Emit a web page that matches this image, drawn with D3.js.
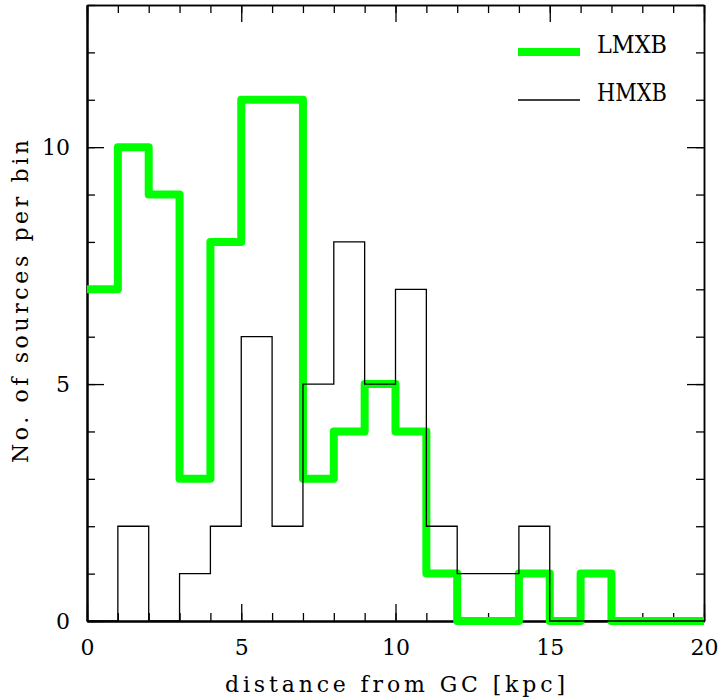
<!DOCTYPE html>
<html lang="en">
<head>
  <meta charset="utf-8" />
  <title>LMXB / HMXB distance from GC</title>
  <style>
    body { margin: 0; background: white; }
    svg text { font-family: "DejaVu Serif", serif; fill: black; }
  </style>
  <script src="https://d3js.org/d3.v7.min.js"></script>
</head>
<body>
<script>

// bin edges (kpc), one bin per 1 kpc
const binEdges = d3.range(0, 21);   // 0..20
// counts per bin
const lmxbCounts = [7, 10, 9, 3, 8, 11, 11, 3, 4, 5, 4, 1, 0, 0, 1, 0, 1, 0, 0, 0];
const hmxbCounts = [0, 2, 0, 1, 2, 6, 2, 5, 8, 5, 7, 2, 1, 1, 2, 0, 0, 0, 0, 0];

const seriesNames = ["LMXB", "HMXB"];
const xMajorTicks = [0, 5, 10, 15, 20];
const yMajorTicks = [0, 5, 10];

// plot box
const W = 719, H = 700;
const box = {left: 87, right: 704, top: 5, bottom: 621};

const svg = d3.select("body").append("svg")
  .attr("width", W)
  .attr("height", H);

const x = d3.scaleLinear().domain([0, 20]).range([box.left, box.right]);
const y = d3.scaleLinear().domain([0, 13]).range([box.bottom, box.top]);

// axes: minor ticks every 1, major every 5 (longer), ticks pointing inward on all sides
function styleAxis(g, w) {
  g.attr("font-family", null);
  g.select(".domain").attr("stroke-width", w);
  g.selectAll(".tick line").attr("stroke-width", 1.3);
  g.selectAll("text").attr("font-size", 22);
}

const minorX = d3.range(0, 21), minorY = d3.range(0, 14);

// bottom
svg.append("g").attr("transform", `translate(0,${box.bottom})`)
  .call(d3.axisBottom(x).tickValues(minorX).tickSize(-8).tickSizeOuter(0).tickFormat(""))
  .call(g => styleAxis(g, 2));
svg.append("g").attr("transform", `translate(0,${box.bottom})`)
  .call(d3.axisBottom(x).tickValues(xMajorTicks).tickSize(-17).tickSizeOuter(0).tickPadding(18).tickFormat(d3.format("d")))
  .call(g => styleAxis(g, 2));
// top
svg.append("g").attr("transform", `translate(0,${box.top})`)
  .call(d3.axisTop(x).tickValues(minorX).tickSize(-8).tickSizeOuter(0).tickFormat(""))
  .call(g => styleAxis(g, 1.5));
svg.append("g").attr("transform", `translate(0,${box.top})`)
  .call(d3.axisTop(x).tickValues(xMajorTicks).tickSize(-17).tickSizeOuter(0).tickFormat(""))
  .call(g => styleAxis(g, 1.5));
// left
svg.append("g").attr("transform", `translate(${box.left},0)`)
  .call(d3.axisLeft(y).tickValues(minorY).tickSize(-8).tickSizeOuter(0).tickFormat(""))
  .call(g => styleAxis(g, 2));
svg.append("g").attr("transform", `translate(${box.left},0)`)
  .call(d3.axisLeft(y).tickValues(yMajorTicks).tickSize(-17).tickSizeOuter(0).tickPadding(17).tickFormat(d3.format("d")))
  .call(g => styleAxis(g, 2));
// right
svg.append("g").attr("transform", `translate(${box.right},0)`)
  .call(d3.axisRight(y).tickValues(minorY).tickSize(-8).tickSizeOuter(0).tickFormat(""))
  .call(g => styleAxis(g, 1.5));
svg.append("g").attr("transform", `translate(${box.right},0)`)
  .call(d3.axisRight(y).tickValues(yMajorTicks).tickSize(-17).tickSizeOuter(0).tickFormat(""))
  .call(g => styleAxis(g, 1.5));

// step histograms
function stepPoints(counts) {
  const pts = counts.map((c, i) => [binEdges[i], c]);
  pts.push([binEdges[counts.length], counts[counts.length - 1]]);
  return pts;
}
const line = d3.line()
  .x(d => x(d[0]))
  .y(d => y(d[1]))
  .curve(d3.curveStepAfter);

svg.append("path")
  .attr("d", line(stepPoints(lmxbCounts)))
  .attr("fill", "none")
  .attr("stroke", "#00ff00")
  .attr("stroke-width", 8)
  .attr("stroke-linejoin", "round");

svg.append("path")
  .attr("d", line(stepPoints(hmxbCounts)))
  .attr("fill", "none")
  .attr("stroke", "black")
  .attr("stroke-width", 1.3);

// legend (line sits at the text baseline)
const legend = svg.append("g");
const legendStyle = [
  { color: "#00ff00", width: 8, y: 52 },
  { color: "black", width: 1.3, y: 100 }
];
seriesNames.forEach((name, i) => {
  const s = legendStyle[i];
  legend.append("line")
    .attr("x1", 518).attr("x2", 580)
    .attr("y1", s.y).attr("y2", s.y)
    .attr("stroke", s.color)
    .attr("stroke-width", s.width);
  legend.append("text")
    .attr("x", 597).attr("y", s.y + 1)
    .attr("font-size", 24)
    .attr("textLength", 70)
    .attr("lengthAdjust", "spacingAndGlyphs")
    .text(name);
});

// axis titles
svg.append("text")
  .attr("x", (225 + 565) / 2).attr("y", 692)
  .attr("text-anchor", "middle")
  .attr("font-size", 22)
  .attr("textLength", 340)
  .attr("lengthAdjust", "spacing")
  .text("distance from GC [kpc]");

svg.append("text")
  .attr("transform", `translate(28,${(140 + 463) / 2}) rotate(-90)`)
  .attr("text-anchor", "middle")
  .attr("font-size", 22)
  .attr("textLength", 323)
  .attr("lengthAdjust", "spacing")
  .text("No. of sources per bin");

</script>
</body>
</html>
